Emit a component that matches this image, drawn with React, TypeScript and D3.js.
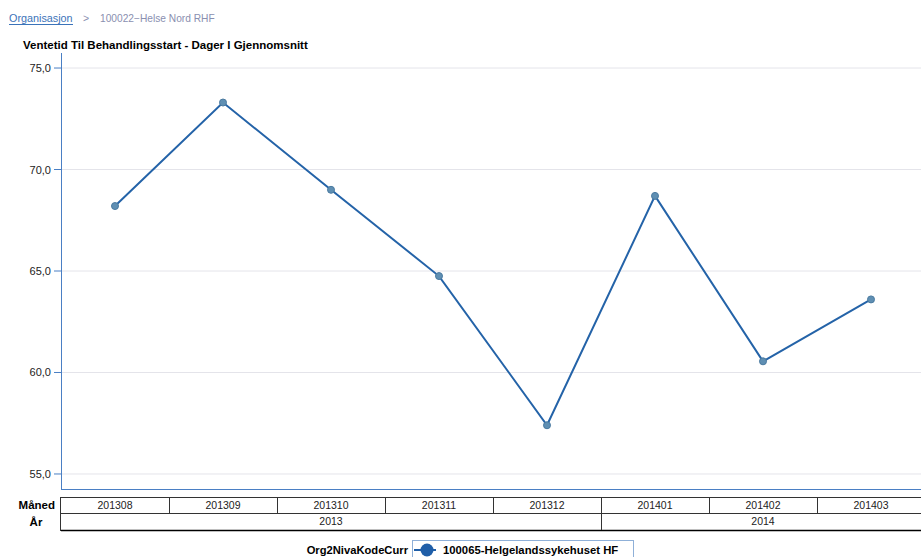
import React from "react";
import * as d3 from "d3";

const months = ["201308", "201309", "201310", "201311", "201312", "201401", "201402", "201403"];
const values = [68.2, 73.3, 69.0, 64.75, 57.4, 68.7, 60.55, 63.6];
const years = ["2013", "2014"];
const yearSpans = [5, 3];
const yTicks = [55, 60, 65, 70, 75];
const seriesName = "100065-Helgelandssykehuset HF";
const legendTitle = "Org2NivaKodeCurr";
const chartTitle = "Ventetid Til Behandlingsstart - Dager I Gjennomsnitt";

const W = 921;
const H = 557;
const left = 61;
const colW = 108;
const top = 53;
const bottom = 489;
const font = "Liberation Sans, Arial, sans-serif";

export default function App() {
  const x = d3
    .scaleBand<string>()
    .domain(months)
    .range([left, left + colW * months.length])
    .paddingInner(0)
    .paddingOuter(0);
  const y = d3.scaleLinear().domain([54.26, 75.74]).range([bottom, top]);
  const line = d3
    .line<number>()
    .x((_, i) => (x(months[i]) as number) + x.bandwidth() / 2)
    .y((d) => y(d));
  const fmt = (v: number) => v.toFixed(1).replace(".", ",");

  const rowTop = 497;
  const rowMid = 513;
  const rowBot = 530;
  let acc = 0;
  const yearCells = years.map((yr, i) => {
    const x0 = left + acc * colW;
    acc += yearSpans[i];
    const x1 = left + acc * colW;
    return { yr, x0, x1 };
  });

  return (
    <svg
      width={W}
      height={H}
      style={{ position: "absolute", left: 0, top: 0, background: "#fff" }}
      fontFamily={font}
    >
      {/* breadcrumb */}
      <text x={9} y={22} fontSize={10.8} fill="#3b73b9">
        Organisasjon
      </text>
      <line x1={9} x2={73} y1={24.5} y2={24.5} stroke="#3b73b9" strokeWidth={1} />
      <text x={83} y={22} fontSize={10.5} fill="#8a8fb0">
        {">"}
      </text>
      <text x={100} y={22} fontSize={10.2} fill="#8a8fb0">
        100022−Helse Nord RHF
      </text>
      {/* title */}
      <text x={23} y={49} fontSize={11.5} fontWeight="bold" fill="#000">
        {chartTitle}
      </text>

      {/* gridlines */}
      {yTicks.map((t) => (
        <line key={"g" + t} x1={left} x2={W} y1={y(t)} y2={y(t)} stroke="#e4e4ea" strokeWidth={1} />
      ))}
      {/* y axis */}
      <line x1={left + 0.5} x2={left + 0.5} y1={top} y2={bottom} stroke="#4a7fc4" strokeWidth={1} />
      <line x1={left} x2={W} y1={bottom + 0.5} y2={bottom + 0.5} stroke="#4a7fc4" strokeWidth={1} />
      {yTicks.map((t) => (
        <g key={"t" + t}>
          <line x1={54} x2={left} y1={y(t)} y2={y(t)} stroke="#4a7fc4" strokeWidth={1} />
          <text x={51} y={y(t) + 4} fontSize={11} textAnchor="end" fill="#222">
            {fmt(t)}
          </text>
        </g>
      ))}

      {/* line */}
      <path d={line(values) || ""} fill="none" stroke="#2463a8" strokeWidth={2} />
      {values.map((v, i) => (
        <circle
          key={"p" + i}
          cx={(x(months[i]) as number) + x.bandwidth() / 2}
          cy={y(v)}
          r={3.5}
          fill="#5f8fb3"
          stroke="#4a7aa0"
          strokeWidth={1}
        />
      ))}

      {/* table */}
      <text x={55} y={rowTop + 12} fontSize={11.5} fontWeight="bold" textAnchor="end">
        Måned
      </text>
      <text x={36} y={rowMid + 13} fontSize={11.5} fontWeight="bold" textAnchor="middle">
        År
      </text>
      <rect x={left - 0.5} y={rowTop + 0.5} width={colW * months.length + 2} height={rowBot - rowTop} fill="none" stroke="#333" />
      <line x1={left} x2={W} y1={rowMid + 0.5} y2={rowMid + 0.5} stroke="#333" />
      <line x1={left} x2={W} y1={rowBot + 0.5} y2={rowBot + 0.5} stroke="#000" strokeWidth={1.5} />
      {months.map((m, i) => (
        <g key={"m" + m}>
          {i > 0 && (
            <line
              x1={(x(m) as number) + 0.5}
              x2={(x(m) as number) + 0.5}
              y1={rowTop}
              y2={rowMid}
              stroke="#333"
            />
          )}
          <text
            x={(x(m) as number) + x.bandwidth() / 2}
            y={rowTop + 12}
            fontSize={10.5}
            textAnchor="middle"
            fill="#222"
          >
            {m}
          </text>
        </g>
      ))}
      {yearCells.map((c, i) => (
        <g key={"y" + c.yr}>
          {i > 0 && <line x1={c.x0 + 0.5} x2={c.x0 + 0.5} y1={rowMid} y2={rowBot} stroke="#333" />}
          <text x={(c.x0 + c.x1) / 2} y={rowMid + 12} fontSize={10.5} textAnchor="middle" fill="#222">
            {c.yr}
          </text>
        </g>
      ))}

      {/* legend */}
      <text x={408} y={554} fontSize={11.2} fontWeight="bold" textAnchor="end">
        {legendTitle}
      </text>
      <rect x={412.5} y={540.5} width={221} height={30} fill="none" stroke="#8fb0d8" />
      <line x1={414} x2={436} y1={550} y2={550} stroke="#1f5ea8" strokeWidth={2} />
      <circle cx={427} cy={550} r={6.5} fill="#1f5ea8" />
      <text x={443} y={554} fontSize={11.3} fontWeight="bold">
        {seriesName}
      </text>
    </svg>
  );
}
